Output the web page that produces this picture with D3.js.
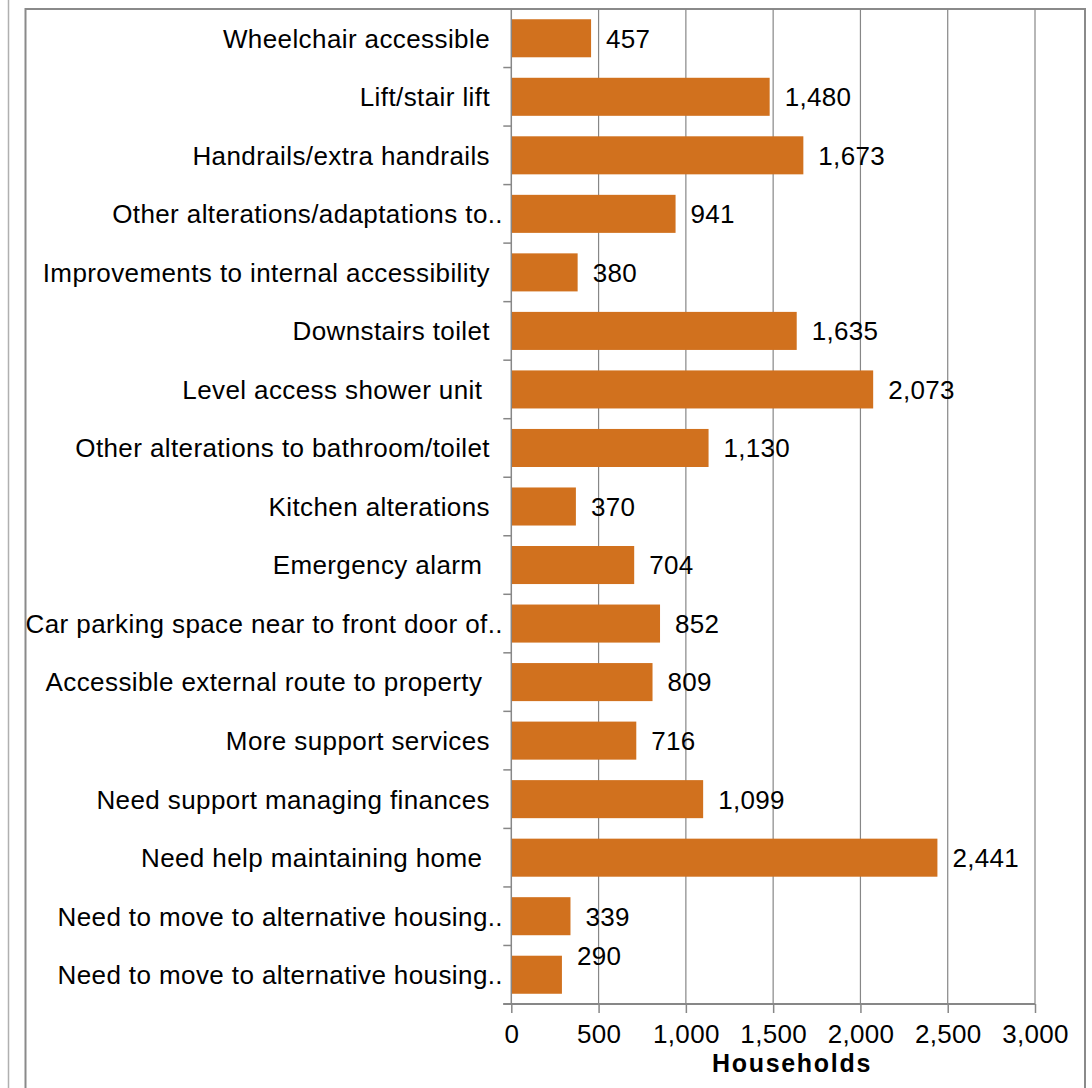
<!DOCTYPE html>
<html>
<head>
<meta charset="utf-8">
<script src="https://cdn.jsdelivr.net/npm/d3@7"></script>
<style>
  html, body { margin: 0; padding: 0; background: #fff; }
  svg { display: block; }
  text { font-family: "Liberation Sans", Arial, sans-serif; fill: #000; white-space: pre; }
</style>
</head>
<body>
<svg id="chart" width="1092" height="1088"></svg>
<script>
const categories = [
  "Wheelchair accessible",
  "Lift/stair lift",
  "Handrails/extra handrails",
  "Other alterations/adaptations to..",
  "Improvements to internal accessibility",
  "Downstairs toilet",
  "Level access shower unit ",
  "Other alterations to bathroom/toilet",
  "Kitchen alterations",
  "Emergency alarm ",
  "Car parking space near to front door of..",
  "Accessible external route to property ",
  "More support services",
  "Need support managing finances",
  "Need help maintaining home ",
  "Need to move to alternative housing..",
  "Need to move to alternative housing.."
];
const values = [457, 1480, 1673, 941, 380, 1635, 2073, 1130, 370, 704, 852, 809, 716, 1099, 2441, 339, 290];
const xTicks = [0, 500, 1000, 1500, 2000, 2500, 3000];
const xTitle = "Households";

(function () {
const svg = d3.select("#chart");
const pLeft = 511.3, pRight = 1035, pTop = 9, pBottom = 1004;
const gridColor = "#878787";
const barColor = "#D1711E";

// outer frame lines
svg.append("line").attr("x1", 8.5).attr("x2", 8.5).attr("y1", 0).attr("y2", 1088)
  .attr("stroke", "#b0b0b0").attr("stroke-width", 1.5);
svg.append("rect").attr("x", 25.5).attr("y", 9).attr("width", 1059.5).attr("height", 1200)
  .attr("fill", "none").attr("stroke", "#8a8a8a").attr("stroke-width", 2);

const ids = categories.map((c, i) => i);
const x = d3.scaleLinear().domain([0, 3000]).range([pLeft, pRight]);
const y = d3.scaleBand().domain(ids).range([pTop, pBottom]).paddingInner(0.35).paddingOuter(0.175);

// gridlines
svg.append("g").selectAll("line").data(xTicks.slice(1)).join("line")
  .attr("x1", d => x(d)).attr("x2", d => x(d))
  .attr("y1", pTop).attr("y2", pBottom)
  .attr("stroke", gridColor).attr("stroke-width", 1.2);

// bars
svg.append("g").selectAll("rect").data(values).join("rect")
  .attr("x", x(0))
  .attr("y", (d, i) => y(i))
  .attr("width", d => x(d) - x(0))
  .attr("height", y.bandwidth())
  .attr("fill", barColor);

// bottom axis
const xAxis = d3.axisBottom(x).tickValues(xTicks).tickFormat(d3.format(",")).tickSize(9).tickPadding(12);
const gx = svg.append("g").attr("transform", `translate(0,${pBottom})`).call(xAxis);
gx.select(".domain").remove();
gx.selectAll(".tick line").attr("stroke", gridColor).attr("stroke-width", 1.5);
gx.selectAll(".tick text").attr("font-size", 26).attr("font-family", "Liberation Sans, Arial, sans-serif")
  .attr("fill", "#000").attr("dy", "0.71em").attr("letter-spacing", 0.3);
svg.append("line").attr("x1", pLeft - 8).attr("x2", pRight).attr("y1", pBottom).attr("y2", pBottom)
  .attr("stroke", gridColor).attr("stroke-width", 2);

// left axis line & category ticks
svg.append("line").attr("x1", pLeft).attr("x2", pLeft).attr("y1", pTop).attr("y2", pBottom)
  .attr("stroke", gridColor).attr("stroke-width", 1.5);
const step = y.step();
const boundaries = d3.range(categories.length + 1).map(i => pTop + i * step);
svg.append("g").selectAll("line").data(boundaries.slice(1)).join("line")
  .attr("x1", pLeft - 8).attr("x2", pLeft)
  .attr("y1", d => d).attr("y2", d => d)
  .attr("stroke", gridColor).attr("stroke-width", 1.5);

// category labels
svg.append("g").selectAll("text").data(categories).join("text")
  .attr("x", d => d.endsWith("..") ? 503 : 490)
  .attr("y", (d, i) => y(i) + y.bandwidth() / 2)
  .attr("dy", "0.36em")
  .attr("text-anchor", "end")
  .attr("font-size", 26)
  .attr("letter-spacing", 0.4)
  .text(d => d);

// value labels
const fmt = d3.format(",");
svg.append("g").selectAll("text").data(values).join("text")
  .attr("x", d => x(d) + 15)
  .attr("y", (d, i) => y(i) + y.bandwidth() / 2 - (i === values.length - 1 ? 19 : 0))
  .attr("dy", "0.36em")
  .attr("font-size", 26)
  .attr("letter-spacing", 0.3)
  .text(d => fmt(d));

// axis title
svg.append("text").attr("x", 792).attr("y", 1072)
  .attr("text-anchor", "middle").attr("font-size", 25).attr("font-weight", "bold")
  .attr("letter-spacing", 1.7)
  .text(xTitle);
})();
</script>
</body>
</html>
